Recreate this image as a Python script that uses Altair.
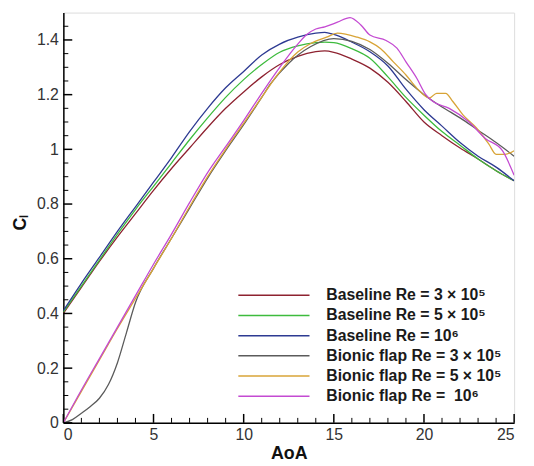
import altair as alt
import pandas as pd

series_names = [
    "Baseline Re = 3 × 10⁵",
    "Baseline Re = 5 × 10⁵",
    "Baseline Re = 10⁶",
    "Bionic flap Re = 3 × 10⁵",
    "Bionic flap Re = 5 × 10⁵",
    "Bionic flap Re =\u00a0 10⁶",
]
series_colors = ["#8e2230", "#3dbb3d", "#2d3a92", "#5b5b5b", "#d8a437", "#c44ad2"]

# Baseline Re = 3e5
b3_aoa = [0, 1, 2, 3, 4, 5, 6, 7, 8, 9, 10, 11, 12, 13, 14, 14.5, 15, 16, 17, 18, 19, 20, 21, 22, 23, 24, 25]
b3_cl = [0.40, 0.495, 0.59, 0.68, 0.765, 0.85, 0.93, 1.005, 1.08, 1.15, 1.21, 1.265, 1.31, 1.34, 1.357, 1.36,
         1.355, 1.33, 1.297, 1.245, 1.175, 1.10, 1.05, 1.005, 0.965, 0.922, 0.885]
# Baseline Re = 5e5
b5_aoa = [0, 1, 2, 3, 4, 5, 6, 7, 8, 9, 10, 11, 12, 13, 14, 14.5, 15, 16, 17, 18, 19, 20, 21, 22, 23, 24, 25]
b5_cl = [0.405, 0.50, 0.595, 0.69, 0.78, 0.865, 0.95, 1.035, 1.115, 1.19, 1.255, 1.31, 1.355, 1.378, 1.39, 1.392,
         1.39, 1.368, 1.333, 1.265, 1.19, 1.125, 1.065, 1.015, 0.965, 0.922, 0.885]
# Baseline Re = 1e6
b6_aoa = [0, 1, 2, 3, 4, 5, 6, 7, 8, 9, 10, 11, 12, 13, 14, 14.5, 15, 16, 17, 18, 19, 20, 21, 22, 23, 24, 25]
b6_cl = [0.41, 0.51, 0.605, 0.70, 0.79, 0.88, 0.97, 1.065, 1.15, 1.225, 1.285, 1.345, 1.385, 1.41, 1.425, 1.428,
         1.42, 1.392, 1.357, 1.305, 1.22, 1.145, 1.085, 1.025, 0.975, 0.935, 0.885]
# Bionic flap Re = 3e5
f3_aoa = [0, 0.5, 1, 1.5, 2, 2.5, 3, 3.5, 4, 5, 6, 7, 8, 9, 10, 11, 11.5, 12.5, 13.7, 15, 16, 17, 18, 19, 20, 21,
          22, 23, 24, 25]
f3_cl = [0, 0.012, 0.035, 0.06, 0.09, 0.14, 0.22, 0.33, 0.44, 0.565, 0.675, 0.785, 0.895, 0.995, 1.09, 1.19, 1.24,
         1.315, 1.375, 1.405, 1.395, 1.365, 1.315, 1.255, 1.20, 1.155, 1.115, 1.07, 1.025, 0.975]
# Bionic flap Re = 5e5
f5_aoa = [0, 1, 2, 3, 4, 5, 6, 7, 8, 9, 10, 11, 11.9, 13, 13.7, 14.6, 15.2, 16.3, 17, 17.6, 18.3, 19, 19.6, 20.3,
          20.7, 21.2, 21.6, 22.15, 22.9, 23.6, 24, 24.5, 25]
f5_cl = [0, 0.115, 0.23, 0.345, 0.455, 0.565, 0.675, 0.79, 0.9, 1.0, 1.095, 1.19, 1.275, 1.356, 1.386, 1.41, 1.425,
         1.41, 1.393, 1.368, 1.32, 1.272, 1.224, 1.188, 1.205, 1.205, 1.175, 1.127, 1.079, 1.019, 0.982, 0.982, 0.995]
# Bionic flap Re = 1e6
f6_aoa = [0, 1, 2, 3, 4, 5, 6, 7, 8, 9, 10, 11, 12, 13, 13.5, 14, 14.5, 15.2, 15.9, 16.5, 17, 17.9, 18.5, 19, 19.6,
          20.1, 20.5, 21.4, 22.5, 23.4, 24.35, 25]
f6_cl = [0, 0.12, 0.235, 0.35, 0.465, 0.58, 0.69, 0.805, 0.915, 1.01, 1.105, 1.205, 1.30, 1.385, 1.42, 1.44, 1.448,
         1.465, 1.482, 1.455, 1.418, 1.398, 1.37, 1.32, 1.26, 1.20, 1.175, 1.15, 1.10, 1.04, 0.995, 0.905]

x_major = [0, 5, 10, 15, 20, 25]
x_minor = [1, 2, 3, 4, 6, 7, 8, 9, 11, 12, 13, 14, 16, 17, 18, 19, 21, 22, 23, 24]
y_major = [0, 0.2, 0.4, 0.6, 0.8, 1.0, 1.2, 1.4]
y_minor = [0.05, 0.1, 0.15, 0.25, 0.3, 0.35, 0.45, 0.5, 0.55, 0.65, 0.7, 0.75, 0.85, 0.9, 0.95,
           1.05, 1.1, 1.15, 1.25, 1.3, 1.35, 1.45]

all_series = [(b3_aoa, b3_cl), (b5_aoa, b5_cl), (b6_aoa, b6_cl), (f3_aoa, f3_cl), (f5_aoa, f5_cl), (f6_aoa, f6_cl)]
rows = []
for name, (aa, cc) in zip(series_names, all_series):
    for a, c in zip(aa, cc):
        rows.append({"series": name, "AoA": a, "Cl": c})
df = pd.DataFrame(rows)

W, H = 456, 415
FONT = "Liberation Sans"
xs = alt.Scale(domain=[0, 25], nice=False, zero=False)
ys = alt.Scale(domain=[0, 1.5], nice=False, zero=False)

lines = alt.Chart(df).mark_line(strokeWidth=1.3, clip=True, interpolate="monotone").encode(
    x=alt.X("AoA:Q", scale=xs, axis=alt.Axis(
        values=x_major, format="~g", title="AoA", ticks=False, grid=False,
        domainColor="black", domainWidth=1.5, labelFont=FONT, labelFontSize=16, labelColor="#333",
        labelPadding=4, titleFont=FONT, titleFontSize=18, titleFontWeight="bold", titleColor="#111",
        titlePadding=2)),
    y=alt.Y("Cl:Q", scale=ys, axis=alt.Axis(
        values=y_major, format="~g", title="Cₗ", ticks=False, grid=False,
        domainColor="black", domainWidth=1.5, labelFont=FONT, labelFontSize=16, labelColor="#333",
        labelPadding=5, titleFont=FONT, titleFontSize=18, titleFontWeight="bold", titleColor="#111",
        titleX=-34, titleY=212)),
    color=alt.Color("series:N", sort=series_names,
                    scale=alt.Scale(domain=series_names, range=series_colors),
                    legend=alt.Legend(orient="none", legendX=205, legendY=278, title=None, padding=0,
                                      symbolType="M-6,0L6,0", symbolSize=144, symbolStrokeWidth=1.5,
                                      labelFont=FONT, labelFontWeight="bold", labelFontSize=16,
                                      labelColor="#1a1a1a", labelOffset=45, labelLimit=400,
                                      rowPadding=4.4)),
)

ymaj = alt.Chart(pd.DataFrame({"v": y_major})).mark_rule(color="black", strokeWidth=1.5).encode(
    y=alt.Y("v:Q", scale=ys), x=alt.value(0), x2=alt.value(9))
ymin = alt.Chart(pd.DataFrame({"v": y_minor})).mark_rule(color="black", strokeWidth=1).encode(
    y=alt.Y("v:Q", scale=ys), x=alt.value(0), x2=alt.value(5))
xmaj = alt.Chart(pd.DataFrame({"v": x_major})).mark_rule(color="black", strokeWidth=1.5).encode(
    x=alt.X("v:Q", scale=xs), y=alt.value(H), y2=alt.value(H - 9))
xmin = alt.Chart(pd.DataFrame({"v": x_minor})).mark_rule(color="black", strokeWidth=1).encode(
    x=alt.X("v:Q", scale=xs), y=alt.value(H), y2=alt.value(H - 5))

chart = alt.layer(lines, ymaj, ymin, xmaj, xmin).properties(
    width=W, height=H,
    autosize=alt.AutoSizeParams(type="none"),
    padding={"left": 56, "top": 2, "right": 12, "bottom": 41},
).configure_view(stroke="black", strokeWidth=1.5).configure(background="white")

chart.save("out.html", embed_options={"renderer": "svg", "actions": False})
